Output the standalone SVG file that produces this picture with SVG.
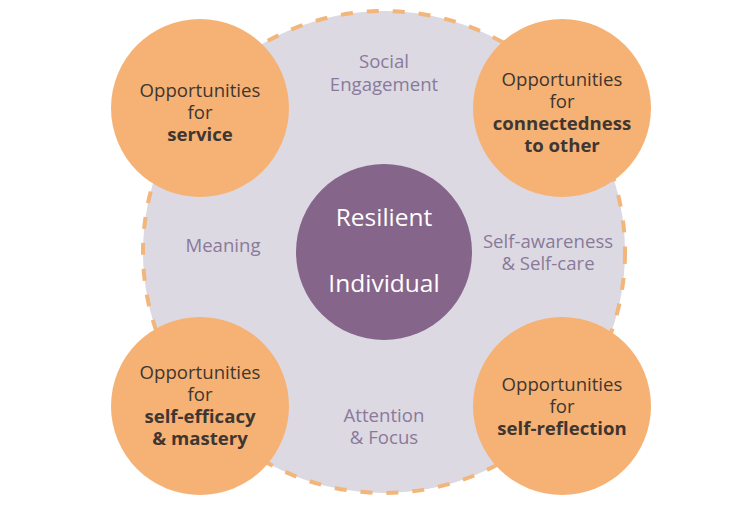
<svg xmlns="http://www.w3.org/2000/svg" width="755" height="511" viewBox="0 0 755 511">
<style>
text{font-family:"Open Sans","Noto Sans","DejaVu Sans",sans-serif;text-anchor:middle}
.dark{fill:#3f3631;font-size:18.6px}
.b{font-weight:bold}
.lab{fill:#8a7a9a;font-size:18.6px}
.center{fill:#ffffff;font-size:24.5px}
.orange{fill:#f5b274}
</style>
<rect width="755" height="511" fill="#ffffff"/>
<g id="ring">
<circle cx="384" cy="252" r="241" fill="#dcd9e3" stroke="#f2b57a" stroke-width="4" stroke-dasharray="12 14"/>
</g>
<g id="connectors"></g>
<g id="labels">
<text class="lab" x="384" y="68">Social</text>
<text class="lab" x="384" y="91">Engagement</text>
<text class="lab" x="223" y="252">Meaning</text>
<text class="lab" x="548" y="248">Self-awareness</text>
<text class="lab" x="548" y="270">&amp; Self-care</text>
<text class="lab" x="384" y="422">Attention</text>
<text class="lab" x="384" y="444">&amp; Focus</text>
</g>
<g id="center">
<circle cx="384" cy="252" r="88" fill="#86658a"/>
<text class="center" x="384" y="226">Resilient</text>
<text class="center" x="384" y="292">Individual</text>
</g>
<g id="service">
<circle class="orange" cx="200" cy="108" r="89"/>
<text class="dark" x="200" y="97">Opportunities</text>
<text class="dark" x="200" y="119">for</text>
<text class="dark b" x="200" y="141">service</text>
</g>
<g id="connectedness">
<circle class="orange" cx="562" cy="108" r="89"/>
<text class="dark" x="562" y="86">Opportunities</text>
<text class="dark" x="562" y="108">for</text>
<text class="dark b" x="562" y="130">connectedness</text>
<text class="dark b" x="562" y="152">to other</text>
</g>
<g id="efficacy">
<circle class="orange" cx="200" cy="406" r="89"/>
<text class="dark" x="200" y="379">Opportunities</text>
<text class="dark" x="200" y="401">for</text>
<text class="dark b" x="200" y="423">self-efficacy</text>
<text class="dark b" x="200" y="445">&amp; mastery</text>
</g>
<g id="reflection">
<circle class="orange" cx="562" cy="406" r="89"/>
<text class="dark" x="562" y="391">Opportunities</text>
<text class="dark" x="562" y="413">for</text>
<text class="dark b" x="562" y="435">self-reflection</text>
</g>
</svg>
